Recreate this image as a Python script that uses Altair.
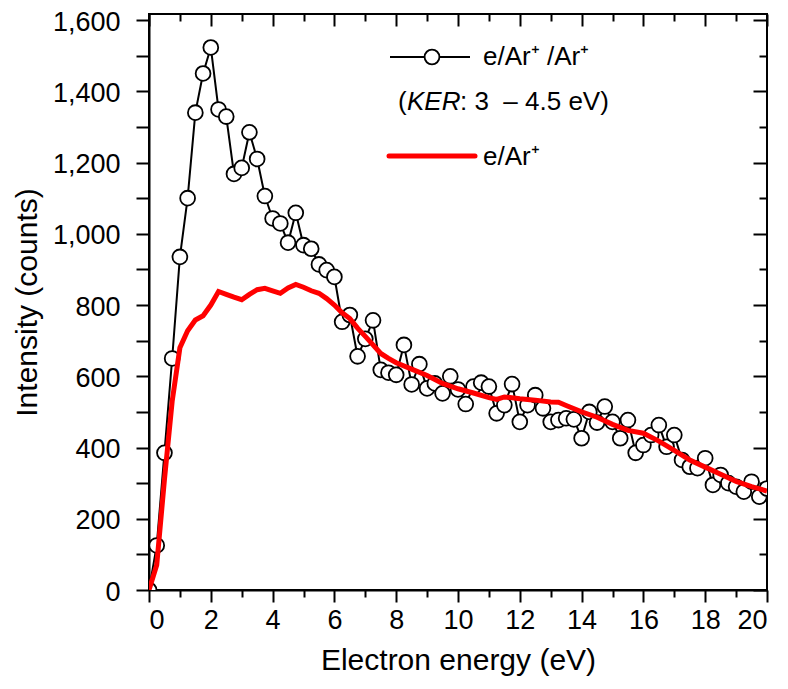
import altair as alt
import pandas as pd

# ---- data ----
energy = [0.0, 0.25, 0.5, 0.75, 1.0, 1.25, 1.5, 1.75, 2.0, 2.25, 2.5, 2.75, 3.0, 3.25, 3.5, 3.75,
          4.0, 4.25, 4.5, 4.75, 5.0, 5.25, 5.5, 5.75, 6.0, 6.25, 6.5, 6.75, 7.0, 7.25, 7.5, 7.75,
          8.0, 8.25, 8.5, 8.75, 9.0, 9.25, 9.5, 9.75, 10.0, 10.25, 10.5, 10.75, 11.0, 11.25, 11.5,
          11.75, 12.0, 12.25, 12.5, 12.75, 13.0, 13.25, 13.5, 13.75, 14.0, 14.25, 14.5, 14.75, 15.0,
          15.25, 15.5, 15.75, 16.0, 16.25, 16.5, 16.75, 17.0, 17.25, 17.5, 17.75, 18.0, 18.25, 18.5,
          18.75, 19.0, 19.25, 19.5, 19.75, 20.0]
coinc_counts = [0, 125, 385, 650, 935, 1100, 1340, 1450, 1523, 1349, 1329, 1168, 1185, 1285, 1210, 1106,
                1043, 1029, 975, 1059, 968, 958, 914, 898, 879, 753, 772, 656, 705, 757, 618, 610,
                604, 688, 577, 634, 566, 580, 552, 600, 563, 522, 571, 582, 571, 496, 519,
                578, 472, 519, 547, 510, 472, 477, 482, 479, 426, 500, 470, 515, 472,
                426, 477, 385, 407, 435, 463, 402, 435, 365, 346, 342, 370, 295, 323,
                300, 290, 276, 304, 262, 285]

red_energy = [0.0, 0.25, 0.5, 0.75, 1.0, 1.25, 1.5, 1.75, 2.0, 2.25, 2.5, 2.75, 3.0, 3.25, 3.5, 3.75,
              4.0, 4.25, 4.5, 4.75, 5.0, 5.25, 5.5, 5.75, 6.0, 6.25, 6.5, 6.75, 7.0, 7.25, 7.5, 7.75,
              8.0, 8.5, 9.0, 9.5, 10.0, 10.5, 11.0, 11.25, 11.5, 12.0, 12.5, 13.0, 13.25, 13.5, 14.0,
              14.5, 15.0, 15.5, 16.0, 16.5, 17.0, 17.5, 18.0, 18.5, 19.0, 19.5, 20.0]
red_counts = [0, 70, 310, 530, 680, 728, 758, 770, 800, 838, 830, 822, 815, 830, 843, 847,
              840, 833, 848, 858, 850, 840, 833, 818, 800, 778, 762, 735, 712, 688, 664, 650,
              638, 620, 602, 580, 565, 553, 540, 535, 542, 537, 533, 528, 527, 518, 500,
              485, 465, 448, 440, 418, 392, 365, 345, 325, 305, 290, 278]

x_major = [0, 2, 4, 6, 8, 10, 12, 14, 16, 18, 20]
x_minor = [1, 3, 5, 7, 9, 11, 13, 15, 17, 19]
y_major = [0, 200, 400, 600, 800, 1000, 1200, 1400, 1600]
y_minor = [100, 300, 500, 700, 900, 1100, 1300, 1500]

label_black = "e/Ar\u207a /Ar\u207a"
label_red = "e/Ar\u207a"
ker_open = "("
ker_word = "KER"
ker_rest = ": 3 \u00a0\u2013 4.5 eV)"

FONT = "Liberation Sans"
FS = 26        # legend text
TICK_FS = 27   # tick labels
TITLE_FS = 30  # axis titles

df_c = pd.DataFrame({"E": energy, "I": coinc_counts})
df_r = pd.DataFrame({"E": red_energy, "I": red_counts})
one = pd.DataFrame({"k": [0]})

xs = alt.Scale(domain=[0, 20], nice=False, zero=False)
ys = alt.Scale(domain=[0, 1617], nice=False)

common = dict(grid=False, tickColor="black", tickWidth=2)

ax_bottom_major = alt.Axis(orient="bottom", values=x_major, tickSize=12, labels=True, labelFont=FONT,
                           labelFontSize=TICK_FS, labelColor="black", labelPadding=5, format="d",
                           domain=True, domainColor="black", domainWidth=2,
                           title="Electron energy (eV)", titleFont=FONT, titleFontSize=TITLE_FS,
                           titleFontWeight="normal", titleColor="black", titlePadding=12, **common)
ax_bottom_minor = alt.Axis(orient="bottom", values=x_minor, tickSize=7, labels=False, domain=False,
                           title=None, **common)
ax_top_major = alt.Axis(orient="top", values=x_major, tickSize=12, offset=-12, labels=False,
                        domain=False, title=None, **common)
ax_top_minor = alt.Axis(orient="top", values=x_minor, tickSize=7, offset=-7, labels=False,
                        domain=False, title=None, **common)

ax_left_major = alt.Axis(orient="left", values=y_major, tickSize=13, labels=True, labelFont=FONT,
                         labelFontSize=TICK_FS, labelColor="black", labelPadding=16, labelOffset=2,
                         format=",.0f", domain=True, domainColor="black", domainWidth=2,
                         title="Intensity (counts)", titleFont=FONT, titleFontSize=TITLE_FS,
                         titleFontWeight="normal", titleColor="black", titlePadding=10, **common)
ax_left_minor = alt.Axis(orient="left", values=y_minor, tickSize=13, labels=False, domain=False,
                         title=None, **common)
ax_right_major = alt.Axis(orient="right", values=y_major, tickSize=14, offset=-14, labels=False,
                          domain=False, title=None, **common)
ax_right_minor = alt.Axis(orient="right", values=y_minor, tickSize=8, offset=-8, labels=False,
                          domain=False, title=None, **common)

black_line = alt.Chart(df_c).mark_line(color="black", strokeWidth=2, clip=True).encode(
    x=alt.X("E:Q", scale=xs, axis=ax_bottom_major),
    y=alt.Y("I:Q", scale=ys, axis=ax_left_major),
)
circles = alt.Chart(df_c).mark_point(shape="circle", filled=True, fill="white", stroke="black",
                                     strokeWidth=1.8, size=220, opacity=1, clip=True).encode(
    x=alt.X("E:Q", scale=xs, axis=ax_bottom_minor),
    y=alt.Y("I:Q", scale=ys, axis=ax_left_minor),
)
red_line = alt.Chart(df_r).mark_line(color="#ff0000", strokeWidth=5, clip=True).encode(
    x=alt.X("E:Q", scale=xs, axis=ax_top_major),
    y=alt.Y("I:Q", scale=ys, axis=ax_right_major),
)
ghost = alt.Chart(df_r).mark_point(opacity=0).encode(
    x=alt.X("E:Q", scale=xs, axis=ax_top_minor),
    y=alt.Y("I:Q", scale=ys, axis=ax_right_minor),
)

# ---- legend (drawn in pixel space of the plot area) ----
leg_black_line = alt.Chart(one).mark_rule(color="black", strokeWidth=2).encode(
    x=alt.value(241), x2=alt.value(321), y=alt.value(43))
leg_black_pt = alt.Chart(one).mark_point(shape="circle", filled=True, fill="white", stroke="black",
                                         strokeWidth=1.8, size=220, opacity=1).encode(
    x=alt.value(283), y=alt.value(43))
leg_black_txt = alt.Chart(one).mark_text(text=label_black, align="left", baseline="middle",
                                         font=FONT, fontSize=FS, color="black").encode(
    x=alt.value(334), y=alt.value(43))
ker1 = alt.Chart(one).mark_text(text=ker_open, align="left", baseline="middle", font=FONT,
                                fontSize=FS, color="black").encode(x=alt.value(249), y=alt.value(88))
ker2 = alt.Chart(one).mark_text(text=ker_word, align="left", baseline="middle", font=FONT,
                                fontSize=FS, fontStyle="italic", color="black").encode(
    x=alt.value(258), y=alt.value(88))
ker3 = alt.Chart(one).mark_text(text=ker_rest, align="left", baseline="middle", font=FONT,
                                fontSize=FS, color="black").encode(x=alt.value(311), y=alt.value(88))
leg_red_line = alt.Chart(one).mark_rule(color="#ff0000", strokeWidth=5, strokeCap="round").encode(
    x=alt.value(240), x2=alt.value(326), y=alt.value(142))
leg_red_txt = alt.Chart(one).mark_text(text=label_red, align="left", baseline="middle",
                                       font=FONT, fontSize=FS, color="black").encode(
    x=alt.value(334), y=alt.value(143))

chart = alt.layer(
    black_line, circles, red_line, ghost,
    leg_black_line, leg_black_pt, leg_black_txt, ker1, ker2, ker3, leg_red_line, leg_red_txt,
).resolve_axis(x="independent", y="independent").properties(
    width=618, height=576,
    autosize=alt.AutoSizeParams(type="none"),
    padding={"left": 141, "top": 6, "right": 12, "bottom": 88},
).configure_view(stroke="black", strokeWidth=2)

chart.save("out.html", embed_options={"renderer": "svg", "actions": False})
